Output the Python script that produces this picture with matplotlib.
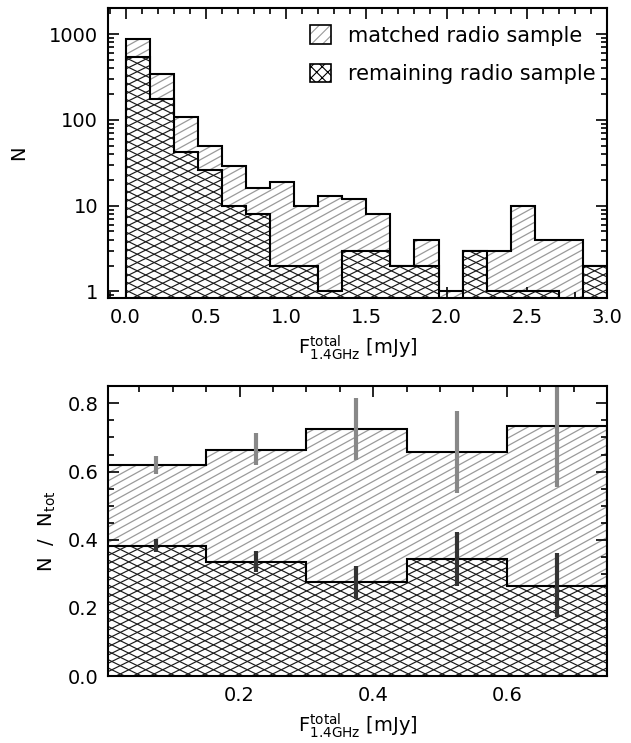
import numpy as np
import matplotlib
matplotlib.use("Agg")
import matplotlib.pyplot as plt
from matplotlib.patches import Patch
from matplotlib.collections import LineCollection
from matplotlib.legend_handler import HandlerTuple
from matplotlib.ticker import MultipleLocator, LogLocator, NullFormatter

# top panel: counts per 0.15 mJy bin
flux_edges = np.arange(0, 3.0001, 0.15)
matched_counts = [867, 341, 108, 50, 29, 16, 19, 10, 13, 12,
                  8, 2, 4, 1, 3, 3, 10, 4, 4, 2]
remaining_counts = [535, 174, 42, 26, 10, 8, 2, 2, 1, 3,
                    3, 2, 2, 0, 3, 1, 1, 1, 0, 2]

# bottom panel: fractions per bin
frac_edges = [0.0, 0.15, 0.30, 0.45, 0.60, 0.75]
matched_frac = [0.618, 0.664, 0.724, 0.656, 0.735]
remaining_frac = [0.382, 0.336, 0.276, 0.344, 0.265]
matched_lo = [0.594, 0.620, 0.635, 0.538, 0.554]
matched_hi = [0.647, 0.713, 0.817, 0.778, 0.916]
remaining_lo = [0.363, 0.305, 0.227, 0.263, 0.174]
remaining_hi = [0.402, 0.366, 0.324, 0.422, 0.360]

plt.rcParams['hatch.linewidth'] = 0.8
plt.rcParams['font.size'] = 14

W_IN, H_IN = 6.31, 7.43
fig = plt.figure(figsize=(W_IN, H_IN), dpi=100)
ax1 = fig.add_axes([0.171, 0.599, 0.791, 0.390])
ax2 = fig.add_axes([0.171, 0.090, 0.791, 0.390])

LW = 1.5
light = '#9a9a9a'
dark = '#1a1a1a'


def hatch_lines(ax, slope, spacing):
    # parallel lines in axes coords, slope / spacing given in pixels
    bb = ax.get_position()
    w, h = bb.width * W_IN * 100, bb.height * H_IN * 100
    segs = []
    for c in np.arange(-abs(slope) * w - spacing, h + spacing, spacing):
        if slope > 0:
            segs.append([(0, c / h), (1, (c + slope * w) / h)])
        else:
            segs.append([(0, (c - slope * w) / h), (1, c / h)])
    return segs


def draw_hist(ax, vals, edges, base, cross, z):
    patch = ax.stairs(vals, edges, baseline=base, fill=True, facecolor='white',
                      linewidth=0, zorder=z)
    if cross:
        segs = hatch_lines(ax, 0.49, 8.3) + hatch_lines(ax, -0.49, 8.3)
        color, lw = dark, 0.85
    else:
        segs = hatch_lines(ax, 0.55, 7.7)
        color, lw = light, 0.9
    lc = LineCollection(segs, colors=color, linewidths=lw,
                        transform=ax.transAxes, zorder=z + 0.1)
    ax.add_collection(lc)
    lc.set_clip_path(patch)
    ax.stairs(vals, edges, baseline=base, fill=False, edgecolor='black',
              linewidth=LW, zorder=z + 0.2)


# --- top panel
m = np.maximum(np.array(matched_counts, float), 1e-3)
r = np.maximum(np.array(remaining_counts, float), 1e-3)
ax1.set_yscale('log')
draw_hist(ax1, m, flux_edges, 1e-3, False, 1)
draw_hist(ax1, r, flux_edges, 1e-3, True, 2)
ax1.set_xlim(-0.11, 3.0)
ax1.set_ylim(0.84, 2000)
ax1.set_yticks([1, 10, 100, 1000])
ax1.set_yticklabels(['1', '10', '100', '1000'])
ax1.yaxis.set_minor_locator(LogLocator(subs=np.arange(2, 10)))
ax1.yaxis.set_minor_formatter(NullFormatter())
ax1.xaxis.set_major_locator(MultipleLocator(0.5))
ax1.xaxis.set_minor_locator(MultipleLocator(0.1))
ax1.xaxis.set_major_formatter(plt.FuncFormatter(lambda v, p: f'{v:.1f}'))
ax1.set_ylabel('N')
ax1.yaxis.set_label_coords(-0.16, 0.5)
ax1.set_xlabel(r'F$^{\mathrm{total}}_{\mathrm{1.4GHz}}$ [mJy]', labelpad=5)

h_matched = (Patch(facecolor='white', edgecolor=light, hatch='///', linewidth=0),
             Patch(facecolor='none', edgecolor='black', linewidth=1.2))
h_remain = (Patch(facecolor='white', edgecolor='black', hatch='xxx', linewidth=0),
            Patch(facecolor='none', edgecolor='black', linewidth=1.2))
ax1.legend([h_matched, h_remain], ['matched radio sample', 'remaining radio sample'],
           handler_map={tuple: HandlerTuple(ndivide=1, pad=0)},
           loc='upper right', bbox_to_anchor=(1.0, 0.98), frameon=False,
           handlelength=1.0, handleheight=1.0,
           handletextpad=0.8, labelspacing=0.85, borderaxespad=0.15, fontsize=15)

# --- bottom panel
draw_hist(ax2, matched_frac, frac_edges, 0, False, 1)
draw_hist(ax2, remaining_frac, frac_edges, 0, True, 2)
centers = (np.array(frac_edges[:-1]) + np.array(frac_edges[1:])) / 2
ax2.vlines(centers, matched_lo, matched_hi, color='#888888', linewidth=3, zorder=5)
ax2.vlines(centers, remaining_lo, remaining_hi, color='#333333', linewidth=3, zorder=5)
ax2.set_xlim(0.003, 0.75)
ax2.set_ylim(0, 0.85)
ax2.xaxis.set_major_locator(MultipleLocator(0.2))
ax2.xaxis.set_minor_locator(MultipleLocator(0.05))
ax2.yaxis.set_major_locator(MultipleLocator(0.2))
ax2.yaxis.set_minor_locator(MultipleLocator(0.05))
ax2.xaxis.set_major_formatter(plt.FuncFormatter(lambda v, p: f'{v:.1f}'))
ax2.yaxis.set_major_formatter(plt.FuncFormatter(lambda v, p: f'{v:.1f}'))
ax2.set_ylabel(r'N  /  N$_{\mathrm{tot}}$')
ax2.yaxis.set_label_coords(-0.10, 0.5)
ax2.set_xlabel(r'F$^{\mathrm{total}}_{\mathrm{1.4GHz}}$ [mJy]', labelpad=5)

for ax in (ax1, ax2):
    for s in ax.spines.values():
        s.set_linewidth(LW)
        s.set_zorder(6)
    ax.tick_params(which='both', direction='in', top=True, right=True, width=1.2)
    ax.tick_params(which='major', length=8, pad=7)
    ax.tick_params(which='minor', length=4)

fig.savefig('out.png', dpi=100)
